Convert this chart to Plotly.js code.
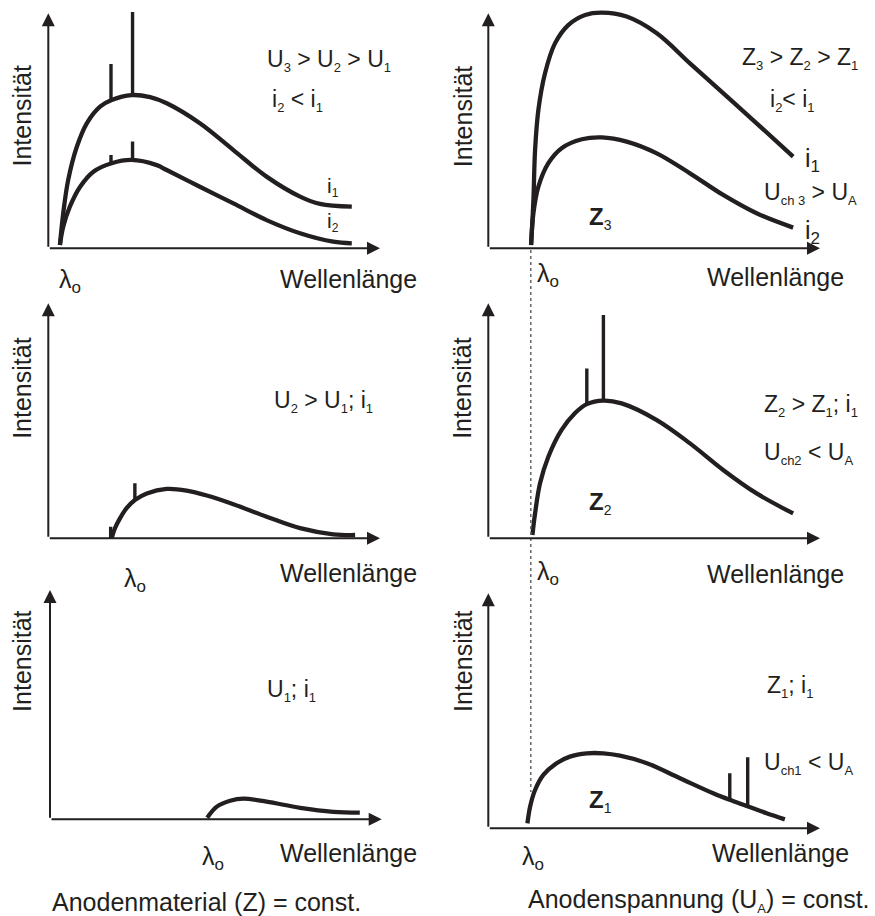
<!DOCTYPE html>
<html><head><meta charset="utf-8">
<script src="https://cdn.plot.ly/plotly-3.0.1.min.js"></script>
<style>html,body{margin:0;padding:0;background:#fff}</style>
</head><body><div id="chart" style="width:875px;height:916px"></div>
<script>
// ---------- DATA (wavelength units, intensity units) ----------
// Panel 1: U3 > U2 > U1, two tube currents
const p1Lambda_i1 = [0.35,0.45,0.60,0.86,1.16,1.56,1.91,2.51,3.07,3.57,4.57,5.58,6.58,7.59,8.19,9.15];
const p1Int_i1    = [0.14,1.49,2.91,4.32,5.32,6.03,6.31,6.52,6.43,6.17,5.32,4.18,3.05,2.20,1.89,1.77];
const p1Lambda_i2 = [0.35,0.45,0.65,0.96,1.36,1.91,2.51,3.27,3.57,4.57,5.58,6.58,7.59,8.59,9.15];
const p1Int_i2    = [0.14,0.92,1.77,2.62,3.26,3.62,3.76,3.54,3.33,2.62,1.91,1.20,0.64,0.28,0.21];
const p1LineLambda = [1.89,2.54];
const p1LineBase_i1 = [6.31,6.52], p1LineTop_i1 = [7.84,10.06];
const p1LineBase_i2 = [3.62,3.76], p1LineTop_i2 = [3.97,4.54];
// Panel 2: Z3, two currents
const p2Lambda_i1 = [1.29,1.36,1.41,1.51,1.71,2.01,2.41,2.92,3.42,4.17,5.08,6.08,7.08,8.09,9.19];
const p2Int_i1    = [0.14,2.06,4.18,5.89,7.45,8.72,9.50,9.93,10.03,9.86,9.15,7.87,6.60,5.32,3.90];
const p2Lambda_i2 = [1.29,1.36,1.51,1.81,2.21,2.82,3.42,4.17,5.08,6.08,7.08,8.09,9.19];
const p2Int_i2    = [0.14,1.49,2.62,3.62,4.26,4.64,4.72,4.54,4.04,3.19,2.27,1.49,0.88];
// Panel 3: U2 > U1; i1
const p3Lambda = [1.91,2.01,2.16,2.36,2.61,2.97,3.57,4.17,4.78,5.58,6.58,7.59,8.59,9.25];
const p3Int    = [0.00,0.43,0.85,1.28,1.63,1.91,2.10,2.03,1.82,1.45,0.92,0.43,0.17,0.14];
const p3LineLambda = [1.88,2.61], p3LineBase = [0,1.63], p3LineTop = [0.49,2.34];
// Panel 4: Z2
const p4Lambda = [1.33,1.41,1.56,1.81,2.21,2.61,2.97,3.47,4.02,5.08,6.08,7.08,8.09,9.19];
const p4Int    = [0.14,1.06,2.34,3.47,4.61,5.32,5.71,5.86,5.74,5.03,4.04,2.91,1.91,1.06];
const p4LineLambda = [2.97,3.47], p4LineBase = [5.71,5.86], p4LineTop = [7.23,9.50];
// Panel 5: U1; i1
const p5Lambda = [4.74,5.03,5.43,5.83,6.53,7.54,8.54,9.34];
const p5Int    = [0.07,0.54,0.79,0.88,0.75,0.49,0.32,0.28];
// Panel 6: Z1
const p6Lambda = [1.18,1.26,1.41,1.66,2.06,2.46,2.97,3.47,3.97,4.78,5.78,6.78,7.28,7.79,8.39,8.94];
const p6Int    = [0.21,0.92,1.63,2.27,2.77,3.05,3.19,3.19,3.09,2.77,2.13,1.49,1.21,0.95,0.64,0.38];
const p6LineLambda = [7.28,7.82], p6LineBase = [1.21,0.94], p6LineTop = [2.34,3.02];
// short-wavelength limit (right column)
const lambda0Right = 1.28;

// ---------- LAYOUT ----------
const W = 875, H = 916, SX = 33.17, SY = 23.5;
const XR = [-1.4, 11.6], YR = [-2.6, 10.5];
const C = '#231f20';
const FONT = 'Liberation Sans, Arial, Helvetica, sans-serif';
const panels = [
  {ox:48.3,  oy:248.3, ylen:10},
  {ox:488.3, oy:248.3, ylen:10},
  {ox:48.3,  oy:538.3, ylen:10},
  {ox:488.3, oy:538.3, ylen:10},
  {ox:50,    oy:819.3, ylen:9.76},
  {ox:488.3, oy:828.3, ylen:10}
];
const layout = {
  width: W, height: H, margin:{l:0,r:0,t:0,b:0},
  paper_bgcolor:'#fff', plot_bgcolor:'rgba(0,0,0,0)', showlegend:false,
  annotations: [], shapes: []
};
const ax = k => k === 1 ? '' : String(k);
panels.forEach((p, i) => {
  const k = i + 1;
  const xd = [(p.ox + XR[0]*SX)/W, (p.ox + XR[1]*SX)/W];
  const yd = [1 - (p.oy - YR[0]*SY)/H, 1 - (p.oy - YR[1]*SY)/H];
  layout['xaxis'+ax(k)] = {domain:xd, range:XR, visible:false, fixedrange:true, anchor:'y'+ax(k)};
  layout['yaxis'+ax(k)] = {domain:yd, range:YR, visible:false, fixedrange:true, anchor:'x'+ax(k)};
  const xr = 'x'+ax(k), yr = 'y'+ax(k);
  const arrow = {xref:xr, yref:yr, axref:xr, ayref:yr, showarrow:true, text:'',
    arrowhead:2, arrowsize:1.3, arrowwidth:2, arrowcolor:C, standoff:0};
  layout.annotations.push(Object.assign({}, arrow, {x:10, y:0, ax:0, ay:0}));
  layout.annotations.push(Object.assign({}, arrow, {x:0, y:p.ylen, ax:0, ay:0}));
});

const sub = (s, sz) => `<sub><span style="font-size:${sz||13}px">${s}</span></sub>`;
function T(k, x, y, text, size, extra) {
  return Object.assign({xref:'x'+ax(k), yref:'y'+ax(k), x, y, text, showarrow:false,
    xanchor:'left', yanchor:'middle', font:{family:FONT, size:size, color:C}}, extra||{});
}
const lam = (sz) => 'λ' + sub('o', sz||17);
const zLab = (d) => 'Z' + `<sub><span style="font-size:14px;font-weight:normal">${d}</span></sub>`;
const zFont = {font:{family:FONT, size:24, color:C, weight:'bold'}};
const A = layout.annotations;
// Panel 1
A.push(T(1, -0.78, 5.67, 'Intensität', 25, {textangle:-90, xanchor:'center'}));
A.push(T(1, 0.26, -1.39, lam(), 25));
A.push(T(1, 6.93, -1.29, 'Wellenlänge', 25));
A.push(T(1, 6.53, 8.01, 'U'+sub('3')+' > U'+sub('2')+' > U'+sub('1'), 23));
A.push(T(1, 6.68, 6.31, 'i'+sub('2')+' < i'+sub('1'), 23));
A.push(T(1, 8.35, 2.61, 'i'+sub('1',12), 21));
A.push(T(1, 8.35, 1.12, 'i'+sub('2',12), 21));
// Panel 2
A.push(T(2, -0.78, 5.64, 'Intensität', 25, {textangle:-90, xanchor:'center'}));
A.push(T(2, 1.41, -1.13, lam(), 25));
A.push(T(2, 6.53, -1.22, 'Wellenlänge', 25));
A.push(T(2, 7.59, 8.09, 'Z'+sub('3')+' > Z'+sub('2')+' > Z'+sub('1'), 23));
A.push(T(2, 8.43, 6.31, 'i'+sub('2')+'< i'+sub('1'), 23));
A.push(T(2, 9.49, 3.76, 'i'+sub('1',17), 25));
A.push(T(2, 9.49, 0.69, 'i'+sub('2',17), 25));
A.push(T(2, 8.24, 2.35, 'U'+sub('ch 3')+' > U'+sub('A'), 23));
A.push(T(2, 2.97, 1.30, zLab('3'), 24, zFont));
// Panel 3
A.push(T(3, -0.78, 6.42, 'Intensität', 25, {textangle:-90, xanchor:'center'}));
A.push(T(3, 2.21, -1.77, lam(), 25));
A.push(T(3, 6.93, -1.46, 'Wellenlänge', 25));
A.push(T(3, 6.73, 5.84, 'U'+sub('2')+' > U'+sub('1')+'; i'+sub('1'), 23));
// Panel 4
A.push(T(4, -0.78, 6.42, 'Intensität', 25, {textangle:-90, xanchor:'center'}));
A.push(T(4, 1.41, -1.48, lam(), 25));
A.push(T(4, 6.53, -1.52, 'Wellenlänge', 25));
A.push(T(4, 8.24, 5.67, 'Z'+sub('2')+' > Z'+sub('1')+'; i'+sub('1'), 23));
A.push(T(4, 8.24, 3.62, 'U'+sub('ch2')+' < U'+sub('A'), 23));
A.push(T(4, 2.97, 1.50, zLab('2'), 24, zFont));
// Panel 5
A.push(T(5, -0.83, 6.76, 'Intensität', 25, {textangle:-90, xanchor:'center'}));
A.push(T(5, 4.51, -1.64, lam(), 25));
A.push(T(5, 6.88, -1.42, 'Wellenlänge', 25));
A.push(T(5, 6.48, 5.50, 'U'+sub('1')+'; i'+sub('1'), 23));
// Panel 6
A.push(T(6, -0.78, 7.14, 'Intensität', 25, {textangle:-90, xanchor:'center'}));
A.push(T(6, 0.96, -1.26, lam(), 25));
A.push(T(6, 6.68, -1.06, 'Wellenlänge', 25));
A.push(T(6, 8.34, 6.03, 'Z'+sub('1')+'; i'+sub('1'), 23));
A.push(T(6, 8.24, 2.77, 'U'+sub('ch1')+' < U'+sub('A'), 23));
A.push(T(6, 2.97, 1.17, zLab('1'), 24, zFont));
// column titles
A.push({xref:'paper', yref:'paper', x:50/W, y:1-902/H, xanchor:'left', yanchor:'middle', showarrow:false,
  text:'Anodenmaterial (Z) = const.', font:{family:FONT, size:25, color:C}});
A.push({xref:'paper', yref:'paper', x:526/W, y:1-900/H, xanchor:'left', yanchor:'middle', showarrow:false,
  text:'Anodenspannung (U'+sub('A')+') = const.', font:{family:FONT, size:25, color:C}});

// dotted lambda0 guide line through right column
layout.shapes.push({type:'line', xref:'x2', yref:'paper', x0:lambda0Right, x1:lambda0Right,
  y0:1-250/H, y1:1-792/H, line:{color:'#6d6e71', width:1.6, dash:'dot'}});

// ---------- TRACES ----------
const traces = [];
function curve(k, xs, ys) {
  traces.push({type:'scatter', mode:'lines', x:xs, y:ys, xaxis:'x'+ax(k), yaxis:'y'+ax(k),
    line:{color:C, width:4.3, shape:'spline', smoothing:1}, hoverinfo:'skip'});
}
function lines(k, xs, base, top) {
  const X = [], Y = [];
  xs.forEach((x, i) => { X.push(x, x, null); Y.push(base[i], top[i], null); });
  traces.push({type:'scatter', mode:'lines', x:X, y:Y, xaxis:'x'+ax(k), yaxis:'y'+ax(k),
    line:{color:C, width:3.4}, hoverinfo:'skip'});
}
curve(1, p1Lambda_i1, p1Int_i1); curve(1, p1Lambda_i2, p1Int_i2);
lines(1, p1LineLambda, p1LineBase_i1, p1LineTop_i1);
lines(1, p1LineLambda, p1LineBase_i2, p1LineTop_i2);
curve(2, p2Lambda_i1, p2Int_i1); curve(2, p2Lambda_i2, p2Int_i2);
curve(3, p3Lambda, p3Int); lines(3, p3LineLambda, p3LineBase, p3LineTop);
curve(4, p4Lambda, p4Int); lines(4, p4LineLambda, p4LineBase, p4LineTop);
curve(5, p5Lambda, p5Int);
curve(6, p6Lambda, p6Int); lines(6, p6LineLambda, p6LineBase, p6LineTop);

Plotly.newPlot('chart', traces, layout, {staticPlot:true, displayModeBar:false});
</script></body></html>
